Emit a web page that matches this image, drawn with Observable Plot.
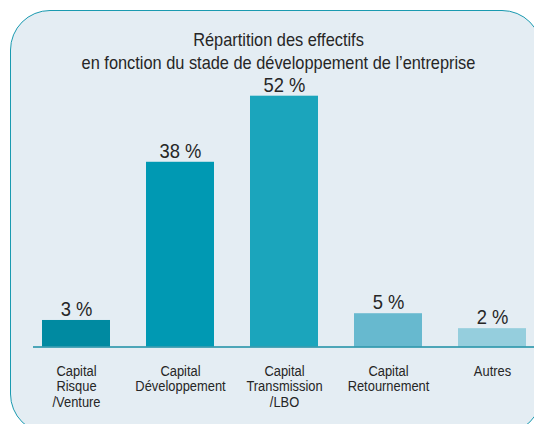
<!DOCTYPE html>
<html>
<head>
<meta charset="utf-8">
<script src="https://cdn.jsdelivr.net/npm/d3@7"></script>
<script src="https://cdn.jsdelivr.net/npm/@observablehq/plot@0.6"></script>
<style>
  html, body { margin: 0; padding: 0; background: #ffffff; }
  #wrap { position: relative; width: 534px; height: 424px; overflow: hidden; }
  #frame { position: absolute; left: 10px; top: 10px; width: 532px; height: 424px;
           border: 1.5px solid #1a9ab0; border-radius: 40px; background: #e4edf3; box-sizing: border-box; }
  #chart { position: absolute; left: 0; top: 0; }
</style>
</head>
<body>
<div id="wrap"><div id="frame"></div><div id="chart"></div></div>
<script>
const titre = ["Répartition des effectifs", "en fonction du stade de développement de l’entreprise"];
const categories = ["Capital\nRisque\n/Venture", "Capital\nDéveloppement", "Capital\nTransmission\n/LBO", "Capital\nRetournement", "Autres"];
const pourcentages = [3, 38, 52, 5, 2];
// bar lengths as drawn in the reference (small bars are drawn a bit taller than their labels)
const hauteurs = [5.5, 38.3, 52, 6.9, 3.8];
const couleurs = ["#008aa1", "#0099b3", "#1ba5bc", "#67b9cf", "#95cedd"];

const data = categories.map((c, i) => ({cat: c, pct: pourcentages[i], h: hauteurs[i], color: couleurs[i]}));
const font = "'Liberation Sans', Arial, sans-serif";

const chart = Plot.plot({
  width: 534,
  height: 424,
  marginLeft: 33,
  marginRight: 0,
  marginTop: 0,
  marginBottom: 0,
  style: {background: "transparent", fontFamily: font, color: "#2a2a2a"},
  x: {domain: categories, range: [6, 562], padding: 0.346, axis: null},
  y: {domain: [0, 52], range: [346.5, 95.7], axis: null},
  color: {type: "identity"},
  marks: [
    Plot.barY(data, {x: "cat", y: "h", fill: "color"}),
    Plot.ruleY([0], {stroke: "#1a8ea5", strokeWidth: 1.5}),
    Plot.text(data, {x: "cat", y: "h", text: d => d.pct + " %", lineAnchor: "bottom", dy: -4.5, fontSize: 20, fill: "#262626", className: "pct"}),
    Plot.text(data, {x: "cat", y: 0, text: "cat", lineAnchor: "top", dy: 17.5, fontSize: 14.5, lineHeight: 1.07, fill: "#262626", className: "cat"}),
    Plot.text([titre[0]], {frameAnchor: "top", text: d => d, dx: -5.5, dy: 32.5, fontSize: 18, fill: "#262626", className: "ttl"}),
    Plot.text([titre[1]], {frameAnchor: "top", text: d => d, dx: -5.5, dy: 56, fontSize: 18, fill: "#262626", className: "ttl"})
  ]
});
// condensed look (Helvetica Condensed in the reference): squeeze each text horizontally
const squeeze = {pct: 0.92, cat: 0.89, ttl: 0.91};
for (const [cls, k] of Object.entries(squeeze)) {
  d3.select(chart).selectAll("g." + cls + " text, ." + cls + " text").each(function () {
    const t = this.getAttribute("transform") || "";
    if (!t.includes("scale")) this.setAttribute("transform", t + ` scale(${k},1)`);
  });
}
document.getElementById("chart").appendChild(chart);
</script>
</body>
</html>
